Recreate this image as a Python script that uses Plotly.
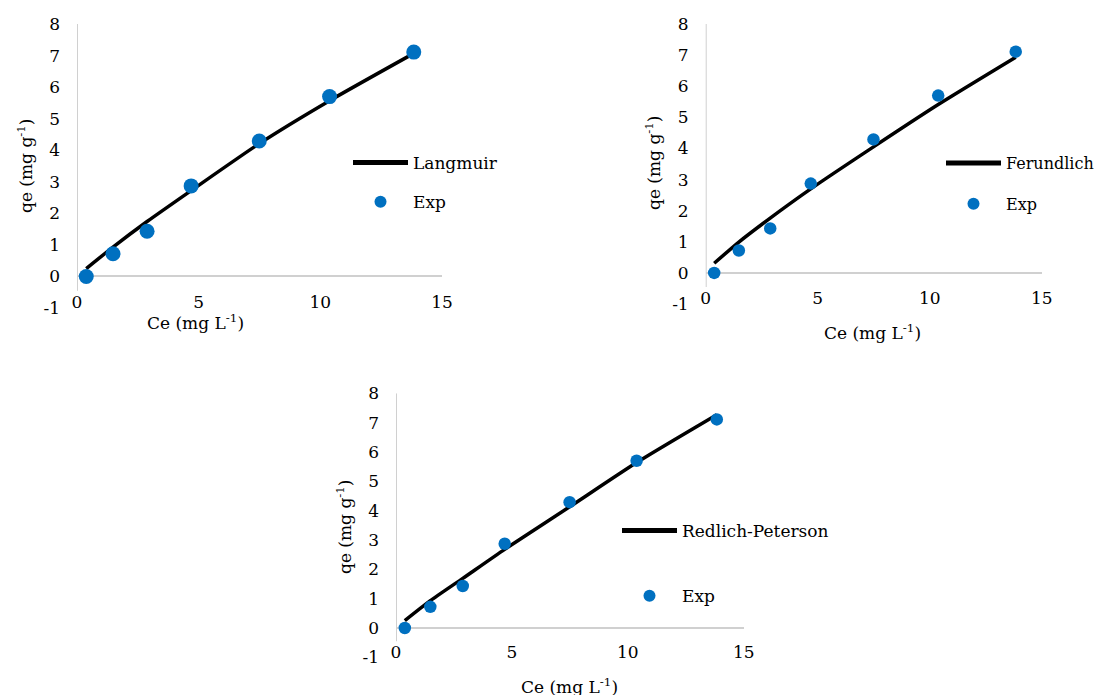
import plotly.graph_objects as go

# ---------------- data ----------------
ce_exp = [0.38, 1.48, 2.88, 4.69, 7.49, 10.38, 13.84]
qe_exp = [0.0, 0.72, 1.43, 2.87, 4.29, 5.70, 7.11]

qe_langmuir = [0.25, 0.93, 1.74, 2.72, 4.21, 5.57, 7.07]
qe_freundlich = [0.31, 0.99, 1.76, 2.70, 4.05, 5.41, 6.93]
qe_redlich = [0.25, 0.93, 1.69, 2.68, 4.13, 5.64, 7.27]

model_names = ["Langmuir", "Ferundlich", "Redlich-Peterson"]
model_values = [qe_langmuir, qe_freundlich, qe_redlich]
exp_name = "Exp"

x_ticks = [0, 5, 10, 15]
x_tick_labels = ["0", "5", "10", "15"]
y_ticks = [-1, 0, 1, 2, 3, 4, 5, 6, 7, 8]
y_tick_labels = ["-1", "0", "1", "2", "3", "4", "5", "6", "7", "8"]
x_title = "Ce (mg L<sup>-1</sup>)"
y_title = "qe (mg g<sup>-1</sup>)"

# ---------------- layout helpers ----------------
W, H = 1101, 695
def fx(px):
    return px / W
def fy(py):
    return 1 - py / H

FONT = "DejaVu Serif"
FS = 17
BLUE = "#0070C0"
GRAY = "#d0d0d0"

panels = [
    dict(xs=(77, 442), ys=(24, 308), xlab=290, ms=15, leg=(348, 145), gap=14,
         legfs=17, xt=(195, 322), yt=(25, 166)),
    dict(xs=(705.7, 1041.7), ys=(24, 304), xlab=286, ms=12.5, leg=(941, 146), gap=17,
         legfs=16, xt=(872, 332), yt=(653, 163)),
    dict(xs=(396, 743.7), ys=(393.3, 657.3), xlab=640, ms=12.5, leg=(617, 513), gap=40,
         legfs=17, xt=(569, 686), yt=(344, 527)),
]

fig = go.Figure()
layout = dict(
    width=W, height=H,
    template="none",
    margin=dict(l=0, r=0, t=0, b=0, pad=0, autoexpand=False),
    paper_bgcolor="white", plot_bgcolor="white",
    font=dict(family=FONT, size=FS, color="black"),
    showlegend=True,
)
annotations = []
shapes = []
tf = dict(family=FONT, size=FS, color="black")

for i, p in enumerate(panels):
    n = "" if i == 0 else str(i + 1)
    xa, ya = "x" + n, "y" + n
    leg = "legend" + n
    fig.add_trace(go.Scatter(
        x=ce_exp, y=model_values[i], mode="lines", name=model_names[i],
        line=dict(color="black", width=3.5, shape="spline", smoothing=0.6),
        xaxis=xa, yaxis=ya, legend=leg, legendgroup="m" + n, hoverinfo="skip"))
    fig.add_trace(go.Scatter(
        x=ce_exp, y=qe_exp, mode="markers", name=exp_name,
        marker=dict(color=BLUE, size=p["ms"]),
        xaxis=xa, yaxis=ya, legend=leg, legendgroup="e" + n))

    layout["xaxis" + n] = dict(
        domain=[fx(p["xs"][0]), fx(p["xs"][1])], range=[0, 15],
        tickvals=x_ticks, ticktext=x_tick_labels, showgrid=False, zeroline=False,
        showline=False, ticks="", anchor="free", position=fy(p["xlab"]),
        automargin=False, tickfont=tf, fixedrange=True)
    layout["yaxis" + n] = dict(
        domain=[fy(p["ys"][1]), fy(p["ys"][0])], range=[-1, 8],
        tickvals=y_ticks, ticktext=y_tick_labels, showgrid=False, zeroline=True,
        zerolinecolor=GRAY, zerolinewidth=2, showline=False, ticks="", anchor=xa,
        ticklabelstandoff=16, automargin=False, tickfont=tf, fixedrange=True)
    layout[leg] = dict(
        x=fx(p["leg"][0]), y=fy(p["leg"][1]), xanchor="left", yanchor="top",
        bgcolor="rgba(0,0,0,0)", borderwidth=0, itemwidth=55,
        tracegroupgap=p["gap"], traceorder="grouped", itemsizing="constant",
        font=dict(family=FONT, size=p["legfs"], color="black"),
        itemclick=False, itemdoubleclick=False)

    shapes.append(dict(type="line", xref=xa, yref=ya, x0=0, x1=0, y0=-0.45, y1=8,
                       line=dict(color=GRAY, width=2), layer="below"))
    annotations.append(dict(text=x_title, x=fx(p["xt"][0]), y=fy(p["xt"][1]),
                            xref="paper", yref="paper", showarrow=False,
                            xanchor="center", yanchor="middle", font=tf))
    annotations.append(dict(text=y_title, x=fx(p["yt"][0]), y=fy(p["yt"][1]),
                            xref="paper", yref="paper", showarrow=False,
                            textangle=-90, xanchor="center", yanchor="middle",
                            font=tf))

layout["annotations"] = annotations
layout["shapes"] = shapes
fig.update_layout(**layout)
fig.write_html("out.html")
